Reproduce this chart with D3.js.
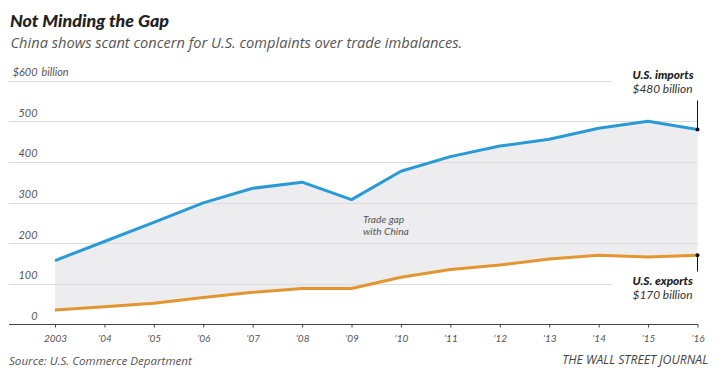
<!DOCTYPE html>
<html>
<head>
<meta charset="utf-8">
<script src="https://cdn.jsdelivr.net/npm/d3@7"></script>
<style>
  html, body { margin: 0; padding: 0; background: #fff; }
  svg { display: block; font-family: Lato, "Open Sans", sans-serif; }
</style>
</head>
<body>
<svg id="chart" width="719" height="388"></svg>
<script>
const years = [2003, 2004, 2005, 2006, 2007, 2008, 2009, 2010, 2011, 2012, 2013, 2014, 2015, 2016];
const yearLabels = ["2003", "’04", "’05", "’06", "’07", "’08", "’09", "’10", "’11", "’12", "’13", "’14", "’15", "’16"];
const imports = [157, 204, 251, 299, 335, 350, 307, 377, 413, 439, 456, 483, 500, 480];
const exports = [35, 43, 52, 66, 79, 88, 88, 116, 135, 146, 161, 170, 166, 170];
const yTicks = [0, 100, 200, 300, 400, 500, 600];
const yTickLabels = ["0", "100", "200", "300", "400", "500", "$600"];

const svg = d3.select("#chart");
const x = d3.scaleLinear().domain([2003, 2016]).range([55, 697.5]);
const y = d3.scaleLinear().domain([0, 600]).range([324.3, 80.7]);
const OPEN = "'Open Sans', Lato, sans-serif";

// scale font-size so that the text has the target width (optionally capped)
function fit(sel, w, cap) {
  const n = sel.node();
  const L = n.getComputedTextLength();
  const fs = parseFloat(sel.attr("font-size"));
  let nf = L > 0 ? fs * w / L : fs;
  if (cap) nf = Math.min(nf, cap);
  sel.attr("font-size", nf.toFixed(2));
  return nf;
}

// Title & subtitle
fit(svg.append("text").attr("x", 10).attr("y", 27)
  .attr("font-size", 17).attr("font-weight", 900).attr("font-style", "italic")
  .attr("fill", "#222").text("Not Minding the Gap"), 159);
fit(svg.append("text").attr("x", 10.5).attr("y", 47.5)
  .attr("font-family", OPEN)
  .attr("font-size", 13.6).attr("font-style", "italic")
  .attr("fill", "#555").text("China shows scant concern for U.S. complaints over trade imbalances."), 452);

// Area (trade gap)
const data = years.map((yr, i) => ({ yr, imp: imports[i], exp: exports[i] }));
svg.append("path").datum(data)
  .attr("fill", "#ededef")
  .attr("d", d3.area().x(d => x(d.yr)).y0(d => y(d.exp)).y1(d => y(d.imp)));

// Gridlines
const gridEnd = v => (v === 600 || v === 100) ? 612 : 697.5;
svg.append("g").selectAll("line").data(yTicks.filter(v => v > 0)).join("line")
  .attr("x1", 9).attr("x2", d => gridEnd(d))
  .attr("y1", d => Math.round(y(d)) + 0.5).attr("y2", d => Math.round(y(d)) + 0.5)
  .attr("stroke", "#dcdcdc").attr("stroke-width", 1);

// Y labels
const yl = svg.append("g").selectAll("text").data(yTicks).join("text")
  .attr("x", 37.5).attr("y", d => y(d) - 4.5)
  .attr("text-anchor", "end")
  .attr("font-size", 11).attr("font-style", "italic").attr("fill", "#555")
  .text((d, i) => yTickLabels[i]);
const yfs = fit(yl.filter(d => d === 500), 19);
yl.attr("font-size", yfs);
svg.append("text").attr("x", 41.5).attr("y", y(600) - 4.5)
  .attr("font-size", yfs).attr("font-style", "italic").attr("fill", "#555")
  .text("billion");

// X axis
const xAxis = d3.axisBottom(x).tickValues(years)
  .tickFormat((d, i) => yearLabels[i]).tickSize(3).tickSizeOuter(0);
const gx = svg.append("g").attr("transform", `translate(0,${Math.round(y(0)) + 0.5})`).call(xAxis);
gx.select(".domain").remove();
gx.append("line").attr("x1", 9).attr("x2", 698).attr("stroke", "#444").attr("stroke-width", 1.2);
gx.selectAll(".tick line").attr("stroke", "#444");
const tt = gx.selectAll(".tick text").attr("font-family", "Lato, sans-serif").attr("font-size", 11)
  .attr("font-style", "italic").attr("fill", "#555").attr("dy", null).attr("y", 17);
const xfs = fit(tt.filter(d => d === 2003), 23.3);
tt.attr("font-size", xfs);

// Lines
const line = key => d3.line().x(d => x(d.yr)).y(d => y(d[key]));
svg.append("path").datum(data).attr("fill", "none").attr("stroke", "#e3952f")
  .attr("stroke-width", 3).attr("stroke-linejoin", "round").attr("d", line("exp"));
svg.append("path").datum(data).attr("fill", "none").attr("stroke", "#2a9ad7")
  .attr("stroke-width", 3).attr("stroke-linejoin", "round").attr("d", line("imp"));

// Annotations
const last = data[data.length - 1];
svg.append("line").attr("x1", x(last.yr)).attr("x2", x(last.yr))
  .attr("y1", 100.5).attr("y2", y(last.imp)).attr("stroke", "#111").attr("stroke-width", 1);
svg.append("line").attr("x1", x(last.yr)).attr("x2", x(last.yr))
  .attr("y1", y(last.exp)).attr("y2", 271.5).attr("stroke", "#111").attr("stroke-width", 1);
svg.append("circle").attr("cx", x(last.yr)).attr("cy", y(last.imp)).attr("r", 2).attr("fill", "#111");
svg.append("circle").attr("cx", x(last.yr)).attr("cy", y(last.exp)).attr("r", 2).attr("fill", "#111");

function label(lines, x0, y0) {
  lines.forEach((l, i) => {
    const s = svg.append("text").attr("x", x0).attr("y", y0 + i * 14.3)
      .attr("font-style", "italic")
      .attr("font-size", l.size).attr("font-weight", l.weight).attr("fill", l.color).text(l.text);
    fit(s, l.w, 11.9);
  });
}
label([{ text: "U.S. imports", size: 12, weight: 900, color: "#222", w: 69 },
       { text: "$480 billion", size: 12, weight: 400, color: "#333", w: 66 }], 632.5, 79);
label([{ text: "U.S. exports", size: 12, weight: 900, color: "#222", w: 69 },
       { text: "$170 billion", size: 12, weight: 400, color: "#333", w: 62 }], 632.5, 285);

const tg1 = svg.append("text").attr("x", 363).attr("y", 222.5)
  .attr("font-size", 10).attr("font-style", "italic").attr("fill", "#555").text("Trade gap");
const tgfs = fit(tg1, 46, 10.2);
svg.append("text").attr("x", 363).attr("y", 234.8)
  .attr("font-size", tgfs).attr("font-style", "italic").attr("fill", "#555").text("with China");

// Footer
fit(svg.append("text").attr("x", 9).attr("y", 365)
  .attr("font-family", OPEN)
  .attr("font-size", 10.5).attr("font-style", "italic").attr("fill", "#555")
  .text("Source: U.S. Commerce Department"), 183);
fit(svg.append("text").attr("x", 708).attr("y", 364).attr("text-anchor", "end")
  .attr("font-family", OPEN)
  .attr("font-size", 10.5).attr("font-style", "italic").attr("fill", "#444")
  .text("THE WALL STREET JOURNAL"), 146);
</script>
</body>
</html>
